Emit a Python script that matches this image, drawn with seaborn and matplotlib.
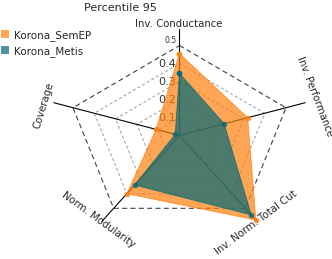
import matplotlib
matplotlib.use("Agg")
import matplotlib.pyplot as plt
import seaborn as sns
import numpy as np
import pandas as pd
from matplotlib.patches import Patch

sns.set_theme(style="white")
plt.rcParams['font.family'] = ['DejaVu Sans']

# data
metrics = ["Inv. Conductance", "Inv. Performance", "Inv. Norm. Total Cut",
           "Norm. Modularity", "Coverage"]
semep = [0.455, 0.32, 0.58, 0.40, 0.11]
metis = [0.345, 0.21, 0.545, 0.34, 0.02]
methods = ["Korona_SemEP", "Korona_Metis"]
colors = {"Korona_SemEP": "#ff7f0e", "Korona_Metis": "#006977"}
rings = [0.1, 0.2, 0.3, 0.4]
title = "Percentile 95"

n = len(metrics)
theta = np.linspace(0, 2 * np.pi, n, endpoint=False)
theta_closed = np.append(theta, theta[0] + 2 * np.pi)

rows = []
for name, vals in zip(methods, [semep, metis]):
    for t, v in zip(theta_closed, vals + vals[:1]):
        rows.append({"method": name, "theta": t, "value": v})
df = pd.DataFrame(rows)

fig = plt.figure(figsize=(3.32, 2.59), dpi=100)
ax = fig.add_axes([0.1358, 0.0598, 0.8096, 0.834], projection="polar")
ax.set_aspect("auto")
ax.set_theta_offset(np.pi / 2)
ax.set_theta_direction(-1)
ax.grid(False)
ax.spines["polar"].set_visible(False)
ax.set_xticks([])
ax.set_yticks([])

# polygon grid
for r in rings:
    ax.plot(theta_closed, [r] * (n + 1), color="0.6", lw=0.7,
            linestyle=(0, (3, 2.5)), zorder=1)
ax.plot(theta_closed, [0.5] * (n + 1), color="0.25", lw=0.8,
        linestyle=(0, (4.5, 3)), zorder=1)
for t in theta:
    ax.plot([t, t], [0, 0.59], color="black", lw=0.8, zorder=1)

# radial tick labels (drawn under the fills)
for r in rings:
    ax.annotate(f"{r:.1f}", xy=(0, r), xytext=(-12, 0), textcoords="offset pixels",
                ha="center", va="center", fontsize=8, color="0.2", zorder=1.5)
ax.annotate("0.5", xy=(0, 0.5), xytext=(-9, 5), textcoords="offset pixels",
            ha="center", va="center", fontsize=5.5, color="0.2", zorder=4)

# fills and outlines
for name in methods:
    sub = df[df["method"] == name]
    ax.fill(sub["theta"], sub["value"], color=colors[name], alpha=0.7, lw=0, zorder=2)
sns.lineplot(data=df, x="theta", y="value", hue="method", palette=colors,
             sort=False, estimator=None, marker="o", markersize=4,
             markeredgewidth=0, lw=0.6, alpha=0.8, legend=False, ax=ax, zorder=3)
ax.set_xlabel("")
ax.set_ylabel("")
ax.set_ylim(0, 0.6)

# axis labels
lab_pos = [(179, 24, 0), (315, 97, -69), (256, 223, 37), (98, 220, -36), (44, 105, 73)]
for name, (px, py, rot) in zip(metrics, lab_pos):
    fig.text(px / 332, 1 - py / 259, name, ha="center", va="center",
             rotation=rot, fontsize=7.3, rotation_mode="anchor")

fig.text(120 / 332, 1 - 8 / 259, title, ha="center", va="center", fontsize=8)

handles = [Patch(facecolor=colors[m], alpha=0.7, edgecolor="none", label=m) for m in methods]
fig.legend(handles=handles, loc="upper left", bbox_to_anchor=(0.0, 1 - 29 / 259),
           frameon=False, fontsize=7.5, handlelength=0.8, handleheight=0.8,
           handletextpad=0.4, labelspacing=0.45, borderpad=0.1, borderaxespad=0)

plt.savefig("out.png", dpi=100)
plt.close()
